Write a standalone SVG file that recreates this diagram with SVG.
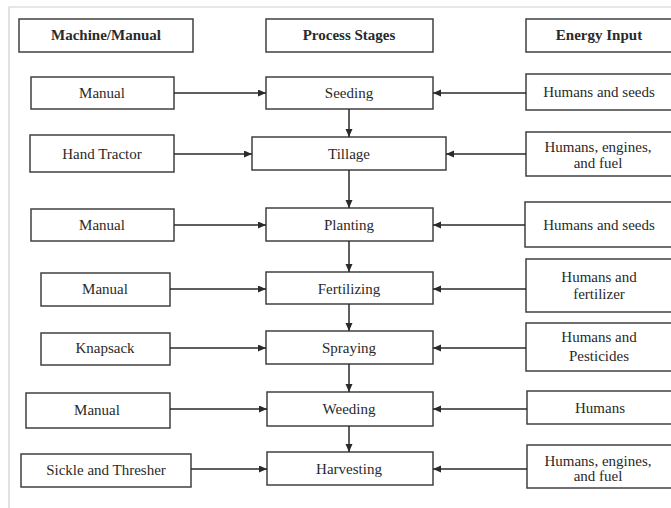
<svg xmlns="http://www.w3.org/2000/svg" width="671" height="508" viewBox="0 0 671 508">
<defs>
<marker id="ah" markerUnits="userSpaceOnUse" markerWidth="9" markerHeight="8" refX="8" refY="3.5" orient="auto">
<path d="M0,0 L8,3.5 L0,7 z" fill="#2a2a2a"/>
</marker>
<style>
rect{fill:#fff;stroke:#404040;stroke-width:1.5}
text{font-family:'Liberation Serif','Tinos','DejaVu Serif',serif;font-size:15px;fill:#2a2a2a;text-anchor:middle}
.b{font-weight:bold}
.c line{stroke:#2a2a2a;stroke-width:1.5;marker-end:url(#ah)}
</style>
</defs>
<rect x="0" y="0" width="671" height="508" style="fill:#fff;stroke:none"/>
<path d="M9,508 V7 H671" fill="none" stroke="#d0d0d0" stroke-width="1.2"/>

<g id="h-machine"><rect x="19" y="19" width="174" height="33"/><text class="b" x="106" y="40">Machine/Manual</text></g>
<g id="h-process"><rect x="266" y="19" width="167" height="33"/><text class="b" x="349" y="40">Process Stages</text></g>
<g id="h-energy"><rect x="526" y="19" width="146" height="33"/><text class="b" x="599" y="40">Energy Input</text></g>

<g id="m1"><rect x="31" y="77" width="143" height="32"/><text x="102" y="98">Manual</text></g>
<g id="m2"><rect x="30" y="135" width="144" height="37"/><text x="102" y="159">Hand Tractor</text></g>
<g id="m3"><rect x="31" y="209" width="143" height="32"/><text x="102" y="230">Manual</text></g>
<g id="m4"><rect x="41" y="273" width="129" height="33"/><text x="105" y="294">Manual</text></g>
<g id="m5"><rect x="41" y="333" width="129" height="32"/><text x="105" y="353">Knapsack</text></g>
<g id="m6"><rect x="26" y="393" width="144" height="35"/><text x="97" y="415">Manual</text></g>
<g id="m7"><rect x="21" y="454" width="170" height="33"/><text x="106" y="475">Sickle and Thresher</text></g>

<g id="p1"><rect x="266" y="77" width="167" height="32"/><text x="349" y="98">Seeding</text></g>
<g id="p2"><rect x="252" y="137" width="194" height="33"/><text x="349" y="159">Tillage</text></g>
<g id="p3"><rect x="266" y="208" width="167" height="33"/><text x="349" y="230">Planting</text></g>
<g id="p4"><rect x="266" y="272" width="167" height="32"/><text x="349" y="294">Fertilizing</text></g>
<g id="p5"><rect x="266" y="331" width="167" height="33"/><text x="349" y="353">Spraying</text></g>
<g id="p6"><rect x="267" y="392" width="166" height="34"/><text x="349" y="414">Weeding</text></g>
<g id="p7"><rect x="267" y="452" width="166" height="33"/><text x="349" y="474">Harvesting</text></g>

<g id="e1"><rect x="526" y="74" width="146" height="36"/><text x="599" y="97">Humans and seeds</text></g>
<g id="e2"><rect x="526" y="132" width="146" height="44"/><text x="598" y="152">Humans, engines,</text><text x="598" y="168">and fuel</text></g>
<g id="e3"><rect x="525" y="202" width="147" height="45"/><text x="599" y="230">Humans and seeds</text></g>
<g id="e4"><rect x="526" y="259" width="146" height="53"/><text x="599" y="282">Humans and</text><text x="599" y="299">fertilizer</text></g>
<g id="e5"><rect x="526" y="323" width="146" height="48"/><text x="599" y="342">Humans and</text><text x="599" y="361">Pesticides</text></g>
<g id="e6"><rect x="527" y="391" width="145" height="33"/><text x="600" y="413">Humans</text></g>
<g id="e7"><rect x="527" y="445" width="145" height="43"/><text x="598" y="466">Humans, engines,</text><text x="598" y="481">and fuel</text></g>

<g id="connectors" class="c">
<line x1="174" y1="93" x2="266" y2="93"/>
<line x1="174" y1="154" x2="252" y2="154"/>
<line x1="174" y1="225" x2="266" y2="225"/>
<line x1="170" y1="289" x2="266" y2="289"/>
<line x1="170" y1="348" x2="266" y2="348"/>
<line x1="170" y1="409" x2="267" y2="409"/>
<line x1="191" y1="469" x2="267" y2="469"/>

<line x1="526" y1="93" x2="433" y2="93"/>
<line x1="526" y1="154" x2="446" y2="154"/>
<line x1="525" y1="225" x2="433" y2="225"/>
<line x1="526" y1="289" x2="433" y2="289"/>
<line x1="526" y1="348" x2="433" y2="348"/>
<line x1="527" y1="409" x2="433" y2="409"/>
<line x1="527" y1="469" x2="433" y2="469"/>

<line x1="349" y1="109" x2="349" y2="137"/>
<line x1="349" y1="170" x2="349" y2="208"/>
<line x1="349" y1="241" x2="349" y2="272"/>
<line x1="349" y1="304" x2="349" y2="331"/>
<line x1="349" y1="364" x2="349" y2="392"/>
<line x1="349" y1="426" x2="349" y2="452"/>
</g>
</svg>
